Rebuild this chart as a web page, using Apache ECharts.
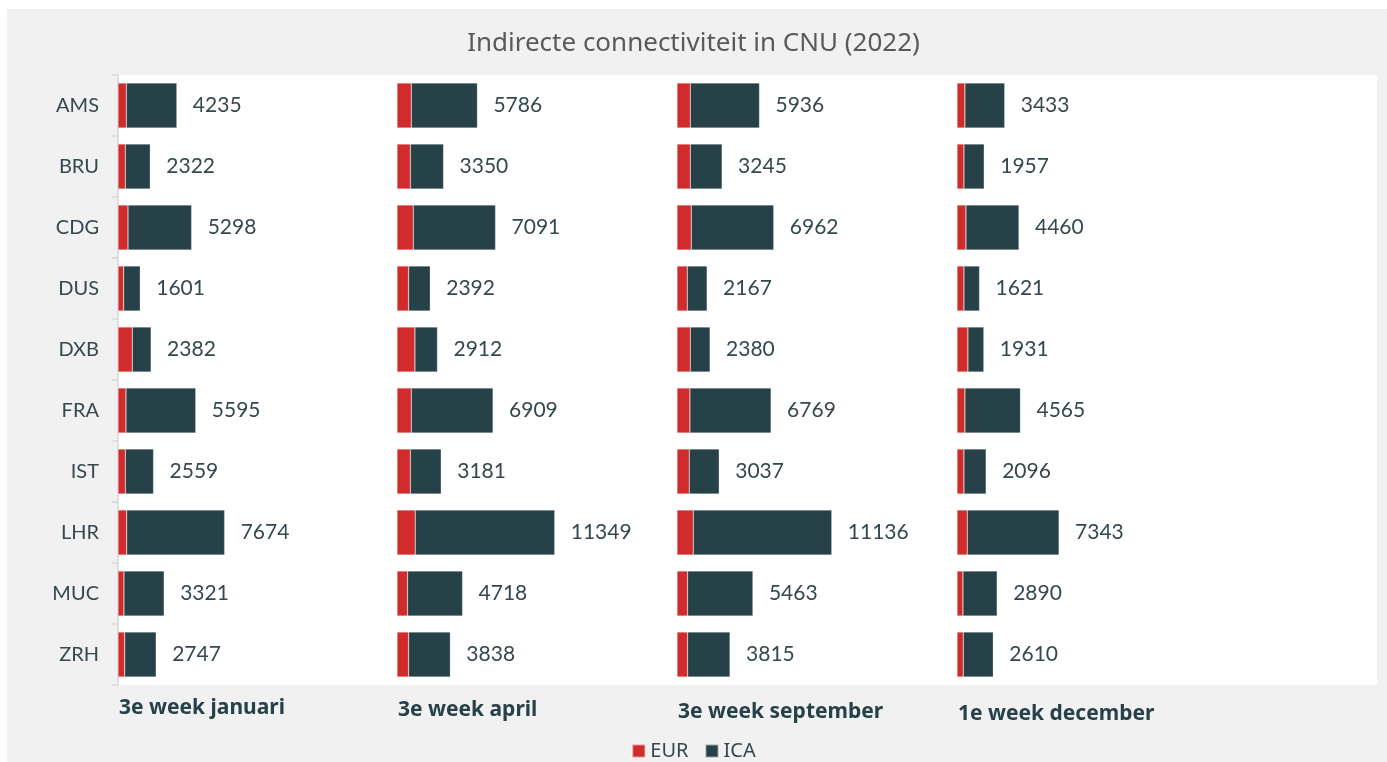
<!DOCTYPE html>
<html>
<head>
<meta charset="utf-8">
<script src="https://cdn.jsdelivr.net/npm/echarts@6/dist/echarts.min.js"></script>
<style>
html,body{margin:0;padding:0;background:#ffffff;}
#chart{width:1387px;height:762px;}
</style>
</head>
<body>
<div id="chart"></div>
<script>
const categories = ['AMS','BRU','CDG','DUS','DXB','FRA','IST','LHR','MUC','ZRH'];
const periods = ['3e week januari','3e week april','3e week september','1e week december'];
// Totals (EUR + ICA) as labelled
const totalJan = [4235,2322,5298,1601,2382,5595,2559,7674,3321,2747];
const totalApr = [5786,3350,7091,2392,2912,6909,3181,11349,4718,3838];
const totalSep = [5936,3245,6962,2167,2380,6769,3037,11136,5463,3815];
const totalDec = [3433,1957,4460,1621,1931,4565,2096,7343,2890,2610];
// EUR part (estimated from bar segments)
const eurJan = [600,530,720,410,1030,575,530,625,430,480];
const eurApr = [1030,960,1170,835,1290,1030,960,1310,760,835];
const eurSep = [955,955,1025,740,955,930,880,1170,760,760];
const eurDec = [570,500,645,500,785,570,500,740,430,450];

const totals = [totalJan,totalApr,totalSep,totalDec];
const eurs = [eurJan,eurApr,eurSep,eurDec];

const RED = '#d22b2b';
const DARK = '#264248';
const TXT = '#34484e';
const FONT = 'Lato, "Noto Sans", sans-serif';
const FONT2 = '"Noto Sans", Lato, sans-serif';

const chart = echarts.init(document.getElementById('chart'));
const lefts = [118, 397, 677, 957];
const grids = [], xAxes = [], yAxes = [], series = [], titles = [];

titles.push({
  text: 'Indirecte connectiviteit in CNU (2022)',
  left: 'center', top: 26,
  textStyle: {fontFamily: FONT2, fontSize: 26, fontWeight: 'normal', color: '#5a5a5a'}
});

for (let i = 0; i < 4; i++) {
  grids.push({left: lefts[i], top: 75, width: 278, height: 610, containLabel: false});
  xAxes.push({type: 'value', gridIndex: i, min: 0, max: 20000, show: false});
  yAxes.push({
    type: 'category', gridIndex: i, data: categories, inverse: true,
    axisLine: {show: i === 0, lineStyle: {color: '#d9d9d9', width: 1.5}},
    axisTick: {show: i === 0, length: 6, lineStyle: {color: '#d9d9d9', width: 1.5}},
    axisLabel: {show: i === 0, margin: 19, fontFamily: FONT, fontSize: 20, color: TXT}
  });
  const tot = totals[i], eur = eurs[i];
  const ica = tot.map((t, k) => t - eur[k]);
  series.push({
    name: 'EUR', type: 'bar', stack: 's' + i, xAxisIndex: i, yAxisIndex: i,
    data: eur, barWidth: 45,
    itemStyle: {color: RED, borderColor: 'rgba(255,255,255,0.5)', borderWidth: 0.5},
    silent: true
  });
  series.push({
    name: 'ICA', type: 'bar', stack: 's' + i, xAxisIndex: i, yAxisIndex: i,
    data: ica, barWidth: 45,
    itemStyle: {color: DARK, borderColor: 'rgba(255,255,255,0.5)', borderWidth: 0.5},
    label: {
      show: true, position: 'right', distance: 16,
      fontFamily: FONT, fontSize: 21, color: TXT,
      formatter: p => String(tot[p.dataIndex])
    },
    silent: true
  });
  titles.push({
    text: periods[i], left: lefts[i] + 1, top: 698 + 2 * i, padding: 0,
    textStyle: {fontFamily: FONT2, fontSize: 21, fontWeight: 'bold', color: '#264248'}
  });
}

chart.setOption({
  backgroundColor: '#ffffff',
  animation: false,
  graphic: [
    {type: 'rect', left: 7, top: 9, shape: {width: 1380, height: 753}, style: {fill: '#f1f1f1'}, z: -10, silent: true},
    {type: 'rect', left: 119, top: 75, shape: {width: 1258, height: 610}, style: {fill: '#ffffff'}, z: -9, silent: true}
  ],
  title: titles,
  legend: {
    data: ['EUR','ICA'], top: 736, left: 'center',
    icon: 'rect', itemWidth: 13, itemHeight: 13, itemGap: 16,
    textStyle: {fontFamily: FONT2, fontSize: 20, color: TXT},
    selectedMode: false
  },
  grid: grids, xAxis: xAxes, yAxis: yAxes, series: series
});
</script>
</body>
</html>
